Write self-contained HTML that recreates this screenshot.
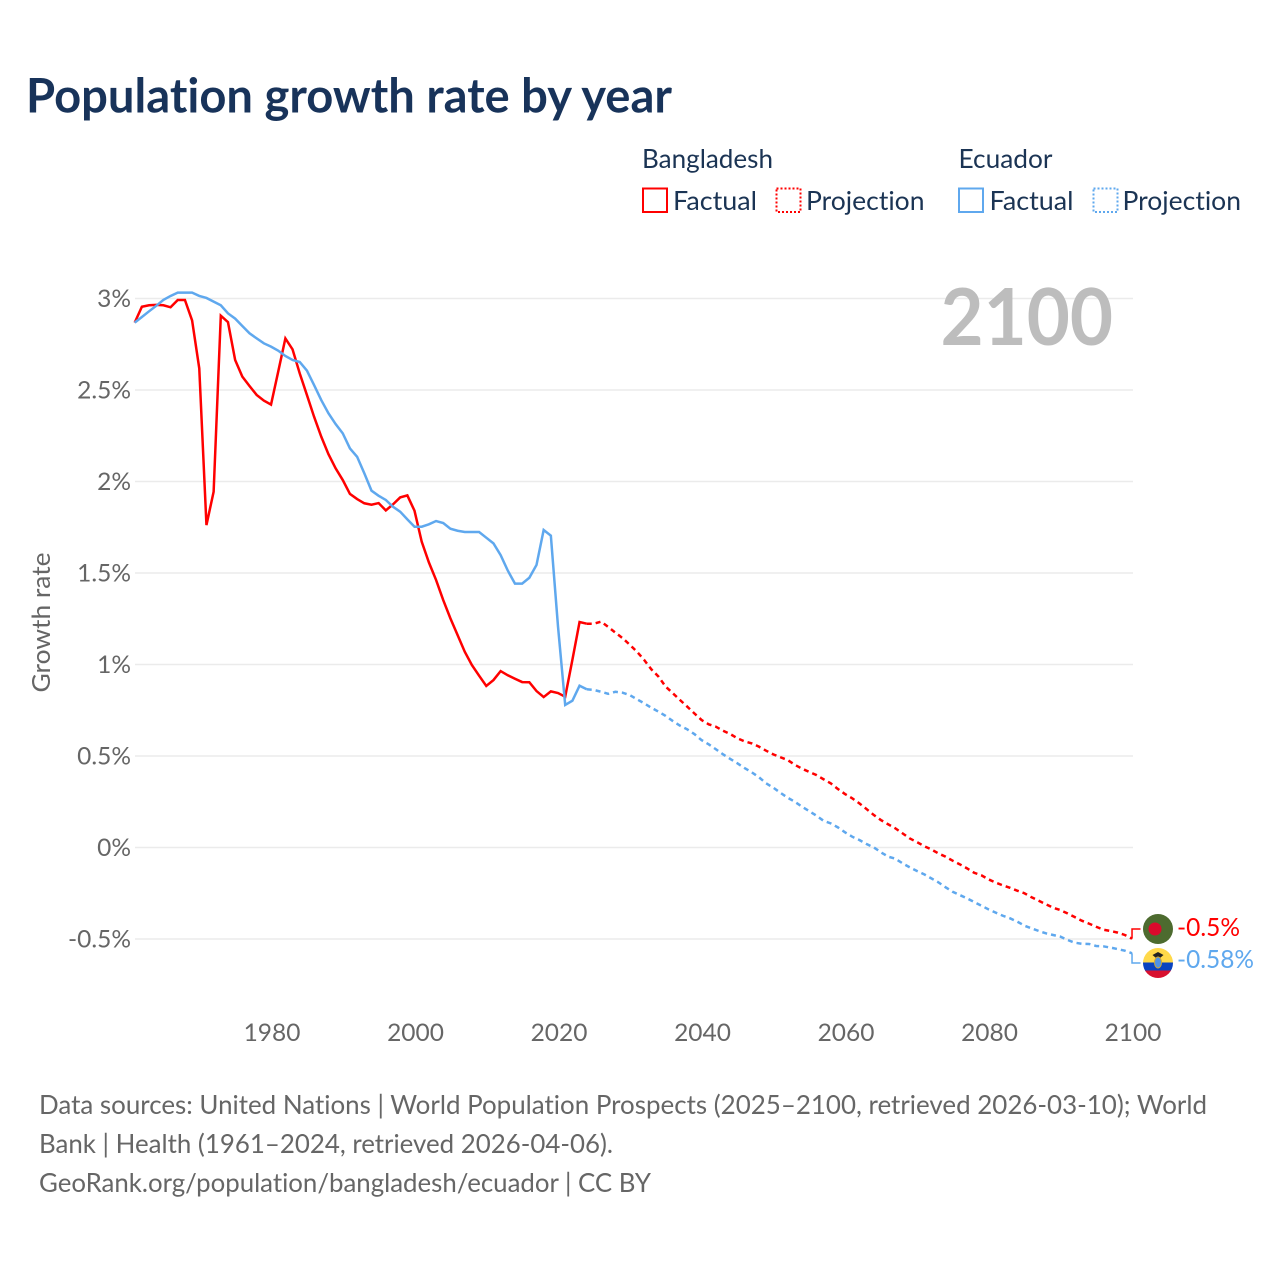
<!DOCTYPE html>
<html lang="en">
<head>
<meta charset="utf-8">
<title>Population growth rate by year</title>
<style>
html,body{margin:0;padding:0;background:#fff;}
svg{display:block;}
text{font-family:"Lato","Carlito","Liberation Sans",sans-serif;font-variant-ligatures:none;}
</style>
</head>
<body>
<svg id="chart" xmlns="http://www.w3.org/2000/svg" width="1280" height="1280" viewBox="0 0 1280 1280">
  <rect x="0" y="0" width="1280" height="1280" fill="#ffffff"/>
  <text x="26" y="112.500" font-size="47.500" font-weight="700" fill="#18335a" textLength="646" lengthAdjust="spacingAndGlyphs">Population growth rate by year</text>

  <g font-size="26" fill="#1b3454">
    <text x="642" y="168" textLength="131" lengthAdjust="spacingAndGlyphs">Bangladesh</text>
    <text x="958.500" y="168" textLength="94" lengthAdjust="spacingAndGlyphs">Ecuador</text>
    <g>
      <rect x="643" y="188.500" width="24" height="23.500" fill="none" stroke="#ff0000" stroke-width="2"/>
      <text x="673" y="210" textLength="84" lengthAdjust="spacingAndGlyphs">Factual</text>
    </g>
    <g>
      <rect x="776.500" y="188.500" width="24" height="23.500" fill="none" stroke="#ff0000" stroke-width="2" stroke-dasharray="2 2"/>
      <text x="806" y="210" textLength="118.500" lengthAdjust="spacingAndGlyphs">Projection</text>
    </g>
    <g>
      <rect x="959" y="188.500" width="24" height="23.500" fill="none" stroke="#5fa8ee" stroke-width="2"/>
      <text x="989.500" y="210" textLength="84" lengthAdjust="spacingAndGlyphs">Factual</text>
    </g>
    <g>
      <rect x="1093.500" y="188.500" width="24" height="23.500" fill="none" stroke="#5fa8ee" stroke-width="2" stroke-dasharray="2 2"/>
      <text x="1122.500" y="210" textLength="118.500" lengthAdjust="spacingAndGlyphs">Projection</text>
    </g>
  </g>

  <g id="grid"></g>
  <g id="yticks"></g>
  <g id="xticks"></g>

  <text transform="translate(50 622.500) rotate(-90)" text-anchor="middle" font-size="25.500" fill="#666666" textLength="140" lengthAdjust="spacingAndGlyphs">Growth rate</text>

  <text x="940.500" y="345" font-size="79" font-weight="700" fill="#bdbdbd" textLength="172.500" lengthAdjust="spacingAndGlyphs">2100</text>

  <g id="series"></g>

  <g>
    <circle cx="1158" cy="929" r="15" fill="#4d6b2f"/>
    <circle cx="1155" cy="929" r="6.500" fill="#dc0a2c"/>
  </g>
  <g>
    <clipPath id="ecClip"><circle cx="1158" cy="963" r="15"/></clipPath>
    <g clip-path="url(#ecClip)">
      <rect x="1143" y="948" width="30" height="15" fill="#ffd94a"/>
      <rect x="1143" y="962.500" width="30" height="8.500" fill="#0a43c0"/>
      <rect x="1143" y="970.500" width="30" height="8" fill="#d8102f"/>
    </g>
    <path d="M1152.500 955 L1158 952 L1163.500 955 L1160 958 L1156 958 Z" fill="#222222"/>
    <ellipse cx="1158" cy="962.500" rx="3.500" ry="5.500" fill="#4f93e6" stroke="#c9a53a" stroke-width="1"/>
  </g>

  <text id="labelBD" x="1177" y="936" font-size="25" fill="#ff0000" textLength="63" lengthAdjust="spacingAndGlyphs"></text>
  <text id="labelEC" x="1177" y="968" font-size="25" fill="#5fa8ee" textLength="77" lengthAdjust="spacingAndGlyphs"></text>

  <g font-size="26" fill="#666666">
    <text x="39" y="1114" textLength="1168" lengthAdjust="spacingAndGlyphs">Data sources: United Nations | World Population Prospects (2025–2100, retrieved 2026-03-10); World</text>
    <text x="39" y="1153" textLength="574" lengthAdjust="spacingAndGlyphs">Bank | Health (1961–2024, retrieved 2026-04-06).</text>
    <text x="39" y="1192" textLength="612" lengthAdjust="spacingAndGlyphs">GeoRank.org/population/bangladesh/ecuador | CC BY</text>
  </g>
</svg>
<script>
const firstYear = 1961;
const lastFactualYear = 2024;
const xTickYears = [1980, 2000, 2020, 2040, 2060, 2080, 2100];
const yTickValues = [3, 2.5, 2, 1.5, 1, 0.5, 0, -0.5];
const yTickLabels = ["3%", "2.5%", "2%", "1.5%", "1%", "0.5%", "0%", "-0.5%"];
const bangladeshEndLabel = "-0.5%";
const ecuadorEndLabel = "-0.58%";

const bangladeshRates = [
  2.868, 2.955, 2.963, 2.965, 2.963, 2.952, 2.992, 2.992, 2.88, 2.618,
  1.762, 1.944, 2.906, 2.871, 2.664, 2.573, 2.522, 2.473, 2.442, 2.42,
  2.60, 2.782, 2.722, 2.591, 2.473, 2.354, 2.245, 2.15, 2.072, 2.008,
  1.932, 1.904, 1.881, 1.873, 1.882, 1.842, 1.875, 1.913, 1.924, 1.84,
  1.671, 1.558, 1.462, 1.352, 1.252, 1.161, 1.07, 0.997, 0.939, 0.883,
  0.915, 0.964, 0.941, 0.922, 0.904, 0.903, 0.855, 0.822, 0.853, 0.844,
  0.824, 1.025, 1.232, 1.223, 1.223, 1.234, 1.205, 1.174, 1.144, 1.108,
  1.07, 1.025, 0.974, 0.934, 0.879, 0.843, 0.806, 0.77, 0.733, 0.697,
  0.673, 0.66, 0.638, 0.62, 0.597, 0.58, 0.569, 0.551, 0.529, 0.509,
  0.493, 0.478, 0.452, 0.431, 0.413, 0.396, 0.373, 0.351, 0.32, 0.292,
  0.269, 0.241, 0.21, 0.178, 0.15, 0.127, 0.105, 0.078, 0.05, 0.03,
  0.008, -0.01, -0.032, -0.05, -0.072, -0.092, -0.114, -0.138, -0.152, -0.174,
  -0.192, -0.207, -0.22, -0.236, -0.25, -0.272, -0.291, -0.31, -0.329, -0.342,
  -0.36, -0.38, -0.4, -0.416, -0.433, -0.449, -0.456, -0.465, -0.478, -0.498
];

const ecuadorRates = [
  2.868, 2.899, 2.93, 2.96, 2.992, 3.014, 3.032, 3.032, 3.032, 3.014,
  3.003, 2.983, 2.963, 2.919, 2.89, 2.85, 2.81, 2.782, 2.755, 2.737,
  2.715, 2.686, 2.664, 2.653, 2.606, 2.527, 2.445, 2.373, 2.314, 2.263,
  2.181, 2.135, 2.045, 1.95, 1.922, 1.899, 1.862, 1.835, 1.793, 1.753,
  1.753, 1.766, 1.784, 1.773, 1.742, 1.731, 1.724, 1.724, 1.724, 1.693,
  1.662, 1.598, 1.513, 1.442, 1.442, 1.474, 1.544, 1.735, 1.704, 1.207,
  0.779, 0.802, 0.884, 0.865, 0.861, 0.851, 0.84, 0.851, 0.846, 0.833,
  0.81, 0.788, 0.764, 0.742, 0.719, 0.691, 0.666, 0.646, 0.62, 0.587,
  0.564, 0.537, 0.509, 0.484, 0.46, 0.434, 0.411, 0.384, 0.351, 0.327,
  0.299, 0.272, 0.25, 0.223, 0.199, 0.174, 0.146, 0.132, 0.11, 0.083,
  0.059, 0.041, 0.019, 0.001, -0.026, -0.05, -0.061, -0.086, -0.108, -0.128,
  -0.146, -0.168, -0.19, -0.217, -0.242, -0.26, -0.278, -0.298, -0.318, -0.338,
  -0.356, -0.373, -0.387, -0.405, -0.427, -0.442, -0.456, -0.469, -0.478, -0.487,
  -0.505, -0.52, -0.526, -0.527, -0.538, -0.54, -0.547, -0.555, -0.564, -0.578
];

const SVG_NS = "http://www.w3.org/2000/svg";
const RED = "#ff0000";
const BLUE = "#5fa8ee";

function xScale(year) { return 134.7 + (year - firstYear) * 7.175; }
function yScale(value) { return 847.5 - value * 183; }

function pointsFor(values, fromYear, toYear) {
  const pts = [];
  for (let i = 0; i < values.length; i++) {
    const year = firstYear + i;
    if (year >= fromYear && year <= toYear) {
      pts.push(xScale(year).toFixed(2) + "," + yScale(values[i]).toFixed(2));
    }
  }
  return pts.join(" ");
}

const gridGroup = document.getElementById("grid");
const yTickGroup = document.getElementById("yticks");
yTickValues.forEach(function (value, i) {
  const line = document.createElementNS(SVG_NS, "line");
  
  
  line.setAttribute("x1", 135);
  line.setAttribute("x2", 1133);
  line.setAttribute("y1", yScale(value));
  line.setAttribute("y2", yScale(value));
  line.setAttribute("stroke", "#ebebeb");
  line.setAttribute("stroke-width", "1.5");
  gridGroup.appendChild(line);

  const label = document.createElementNS(SVG_NS, "text");
  
  
  label.setAttribute("x", 131);
  label.setAttribute("y", yScale(value) + 8.5);
  label.setAttribute("text-anchor", "end");
  label.setAttribute("font-size", "24.5");
  label.setAttribute("fill", "#666666");
  label.textContent = yTickLabels[i];
  yTickGroup.appendChild(label);
});

const xTickGroup = document.getElementById("xticks");
xTickYears.forEach(function (year) {
  const label = document.createElementNS(SVG_NS, "text");
  
  
  label.setAttribute("x", xScale(year) + 1);
  label.setAttribute("y", 1041);
  label.setAttribute("text-anchor", "middle");
  label.setAttribute("font-size", "24.5");
  label.setAttribute("fill", "#666666");
  label.textContent = String(year);
  xTickGroup.appendChild(label);
});

const seriesGroup = document.getElementById("series");
function addLine(points, color, dashed, name) {
  const line = document.createElementNS(SVG_NS, "polyline");
  
  
  line.setAttribute("points", points);
  line.setAttribute("fill", "none");
  line.setAttribute("stroke", color);
  line.setAttribute("stroke-width", "2.5");
  line.setAttribute("stroke-linejoin", "miter");
  if (dashed) { line.setAttribute("stroke-dasharray", "5 4"); }
  seriesGroup.appendChild(line);
}
function addConnector(value, flagY, color, name) {
  const x = xScale(firstYear + bangladeshRates.length - 1);
  const connector = document.createElementNS(SVG_NS, "polyline");
  
  
  connector.setAttribute("points", x + "," + yScale(value) + " " + x + "," + flagY + " " + (x + 8.5) + "," + flagY);
  connector.setAttribute("fill", "none");
  connector.setAttribute("stroke", color);
  connector.setAttribute("stroke-width", "1.5");
  seriesGroup.appendChild(connector);
}
const finalYear = firstYear + bangladeshRates.length - 1;
addLine(pointsFor(ecuadorRates, lastFactualYear, finalYear), BLUE, true, "ecuador-projection-line");
addLine(pointsFor(bangladeshRates, lastFactualYear, finalYear), RED, true, "bangladesh-projection-line");
addLine(pointsFor(bangladeshRates, firstYear, lastFactualYear), RED, false, "bangladesh-factual-line");
addLine(pointsFor(ecuadorRates, firstYear, lastFactualYear), BLUE, false, "ecuador-factual-line");
addConnector(bangladeshRates[bangladeshRates.length - 1], 929, RED, "bangladesh-flag-connector");
addConnector(ecuadorRates[ecuadorRates.length - 1], 963, BLUE, "ecuador-flag-connector");

document.getElementById("labelBD").textContent = bangladeshEndLabel;
document.getElementById("labelEC").textContent = ecuadorEndLabel;
</script>
</body>
</html>
